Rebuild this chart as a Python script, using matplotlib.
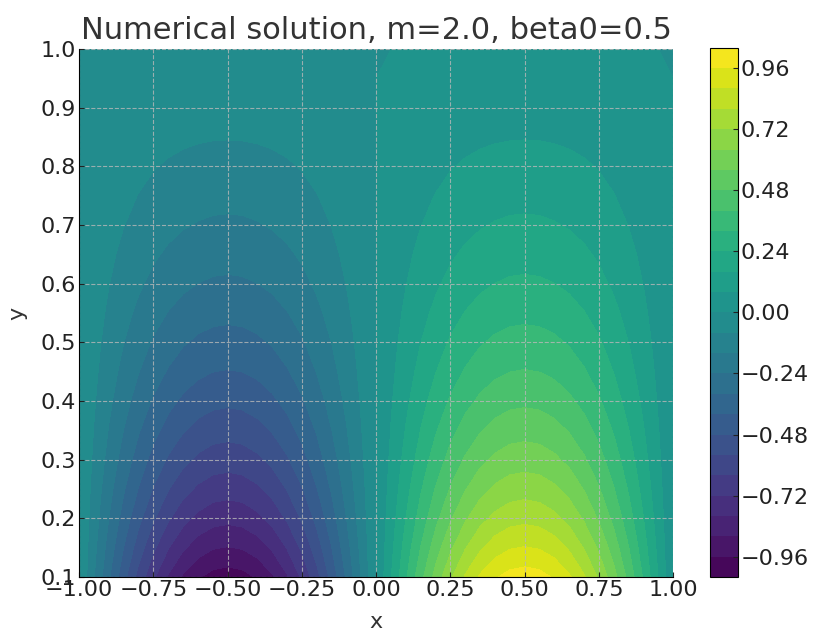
import numpy as np
import matplotlib
matplotlib.use("Agg")
import matplotlib.pyplot as plt

# x-profile (read from the bottom row, normalised to the peak at x=0.5)
x_vals = np.round(np.arange(-1.0, 1.0001, 0.05), 2)
x_prof = [
    0.000, -0.156, -0.309, -0.454, -0.588, -0.707, -0.809, -0.891, -0.951, -0.988,
    -1.000, -0.988, -0.951, -0.891, -0.809, -0.707, -0.588, -0.454, -0.309, -0.156,
    0.000, 0.156, 0.309, 0.454, 0.588, 0.707, 0.809, 0.891, 0.951, 0.988,
    1.000, 0.988, 0.951, 0.891, 0.809, 0.707, 0.588, 0.454, 0.309, 0.156,
    0.000,
]

# y-profile (read along x=0.5 from contour crossings)
y_vals = np.round(np.arange(0.1, 1.0001, 0.05), 2)
y_prof = [
    1.000, 0.884, 0.778, 0.687, 0.605, 0.532, 0.465, 0.404, 0.351, 0.300,
    0.253, 0.212, 0.173, 0.139, 0.108, 0.077, 0.052, 0.026, 0.000,
]

levels = np.round(np.arange(-1.04, 1.0401, 0.08), 2)

plt.rcParams.update({
    "font.size": 16,
    "text.color": "#333333",
    "axes.labelcolor": "#333333",
    "xtick.color": "#222222",
    "ytick.color": "#222222",
    "xtick.direction": "in",
    "ytick.direction": "in",
    "xtick.major.pad": 2,
    "ytick.major.pad": 2,
})

Z = np.outer(np.array(y_prof), np.array(x_prof))
X, Y = np.meshgrid(x_vals, y_vals)

fig = plt.figure(figsize=(8.16, 6.33), dpi=100)
ax = fig.add_axes([0.097, 0.0885, 0.728, 0.834])
cax = fig.add_axes([0.870, 0.0885, 0.034, 0.836])

cs = ax.contourf(X, Y, Z, levels=levels, cmap="viridis")
cb = fig.colorbar(cs, cax=cax)
cb.ax.tick_params(labelsize=16, direction="in")

ax.set_title("Numerical solution, m=2.0, beta0=0.5", fontsize=22, pad=7)
ax.set_xlabel("x", fontsize=16, labelpad=9)
ax.set_ylabel("y", fontsize=16, labelpad=10)
ax.tick_params(labelsize=16)
ax.set_xticks(np.arange(-1.0, 1.01, 0.25))
ax.set_yticks(np.round(np.arange(0.1, 1.01, 0.1), 1))
ax.grid(True, linestyle="--", color="#b8b8b8", alpha=0.8, linewidth=0.8)
ax.spines["top"].set_visible(False)
ax.spines["right"].set_visible(False)

fig.savefig("out.png", dpi=100)
